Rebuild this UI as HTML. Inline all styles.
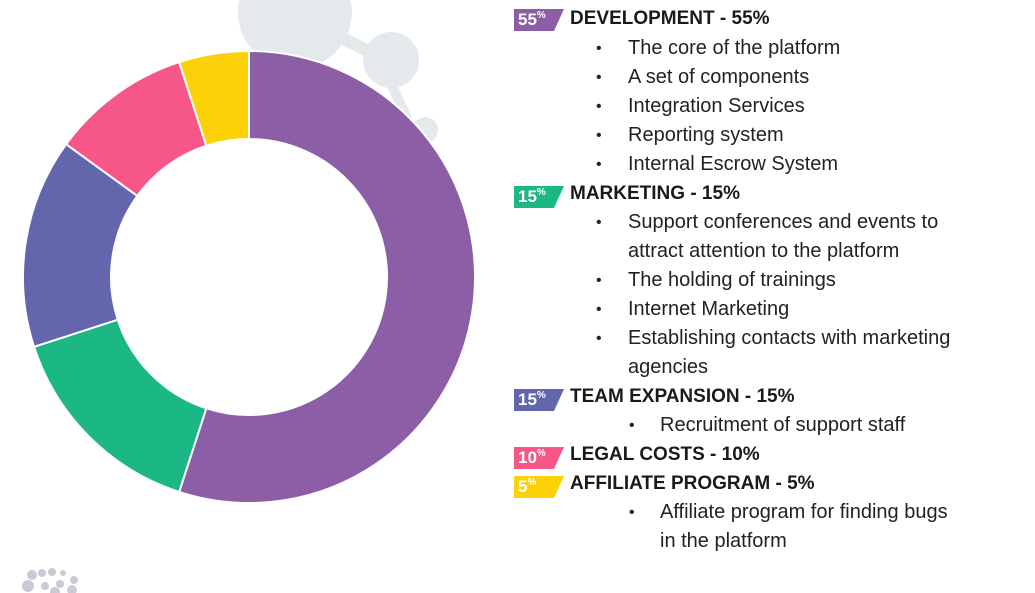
<!DOCTYPE html>
<html><head><meta charset="utf-8"><style>
body{margin:0;width:1035px;height:593px;background:#fff;overflow:hidden;position:relative;font-family:"Liberation Sans",sans-serif;}
svg{position:absolute;left:0;top:0}
.t{position:absolute;font-size:20px;color:#222;white-space:nowrap;line-height:22px}
.h{font-weight:bold;font-size:19px;color:#1a1a1a}
.b{position:absolute;font-size:16px;color:#222;line-height:22px}
.badge{position:absolute;left:514px;width:50px;height:22px;color:#fff;font-weight:bold;font-size:17px;line-height:22px;padding-left:4px;box-sizing:border-box;clip-path:polygon(0 0,100% 0,80% 100%,0 100%)}
.badge sup{font-size:10px;vertical-align:top;line-height:14px}
</style></head><body>
<svg width="1035" height="593">
 <g fill="#e4e9ec">
  <circle cx="295" cy="12" r="57"/><circle cx="391" cy="60" r="28"/>
  <path d="M340 30 L380 50 L376 62 L336 42Z"/><path d="M395 80 L412 118 L403 122 L386 84Z"/>
  <circle cx="425" cy="130" r="13"/>
 </g>
 <g fill="#c9cad3">
  <circle cx="32" cy="575" r="5"/><circle cx="42" cy="573" r="4"/><circle cx="52" cy="572" r="4"/><circle cx="63" cy="573" r="3"/>
  <circle cx="28" cy="586" r="6"/><circle cx="45" cy="586" r="4"/><circle cx="60" cy="584" r="4"/><circle cx="74" cy="580" r="4"/><circle cx="72" cy="590" r="5"/><circle cx="55" cy="592" r="5"/>
 </g>
 <g id="donut" transform="translate(249,277)"></g>
</svg>
<script>
const categories=["Development","Marketing","Team Expansion","Legal Costs","Affiliate Program"];
const values=[55,15,15,10,5];
const colors=["#8b5ea5","#1bb784","#6366ad","#f65786","#fdd108"];
const g=document.getElementById('donut');
const R=226,r=138;
const total=values.reduce((a,b)=>a+b,0);
function pt(a,rad){return [rad*Math.sin(a),-rad*Math.cos(a)];}
let acc=0;
values.forEach((v,i)=>{
 const a0=acc/total*2*Math.PI;acc+=v;const a1=acc/total*2*Math.PI;
 const lg=(a1-a0)>Math.PI?1:0;
 const [x0,y0]=pt(a0,R),[x1,y1]=pt(a1,R),[x2,y2]=pt(a1,r),[x3,y3]=pt(a0,r);
 const p=document.createElementNS('http://www.w3.org/2000/svg','path');
 p.setAttribute('d',`M${x0} ${y0} A${R} ${R} 0 ${lg} 1 ${x1} ${y1} L${x2} ${y2} A${r} ${r} 0 ${lg} 0 ${x3} ${y3}Z`);
 p.setAttribute('fill',colors[i]);p.setAttribute('stroke','#fff');p.setAttribute('stroke-width','2');
 
 
 g.appendChild(p);
});
</script>
<div class="badge" style="top:9px;background:#8b5ea5">55<sup>%</sup></div>
<div class="t h" style="left:570px;top:8px">DEVELOPMENT - 55%</div>
<div class="b" style="left:596px;top:38px">•</div><div class="t" style="left:628px;top:37px">The core of the platform</div>
<div class="b" style="left:596px;top:67px">•</div><div class="t" style="left:628px;top:66px">A set of components</div>
<div class="b" style="left:596px;top:96px">•</div><div class="t" style="left:628px;top:95px">Integration Services</div>
<div class="b" style="left:596px;top:125px">•</div><div class="t" style="left:628px;top:124px">Reporting system</div>
<div class="b" style="left:596px;top:154px">•</div><div class="t" style="left:628px;top:153px">Internal Escrow System</div>
<div class="badge" style="top:186px;background:#1bb784">15<sup>%</sup></div>
<div class="t h" style="left:570px;top:183px">MARKETING - 15%</div>
<div class="b" style="left:596px;top:212px">•</div><div class="t" style="left:628px;top:211px">Support conferences and events to</div>
<div class="t" style="left:628px;top:240px">attract attention to the platform</div>
<div class="b" style="left:596px;top:270px">•</div><div class="t" style="left:628px;top:269px">The holding of trainings</div>
<div class="b" style="left:596px;top:299px">•</div><div class="t" style="left:628px;top:298px">Internet Marketing</div>
<div class="b" style="left:596px;top:328px">•</div><div class="t" style="left:628px;top:327px">Establishing contacts with marketing</div>
<div class="t" style="left:628px;top:356px">agencies</div>
<div class="badge" style="top:389px;background:#6366ad">15<sup>%</sup></div>
<div class="t h" style="left:570px;top:386px">TEAM EXPANSION - 15%</div>
<div class="b" style="left:629px;top:415px">•</div><div class="t" style="left:660px;top:414px">Recruitment of support staff</div>
<div class="badge" style="top:447px;background:#f65786">10<sup>%</sup></div>
<div class="t h" style="left:570px;top:444px">LEGAL COSTS - 10%</div>
<div class="badge" style="top:476px;background:#fdd108">5<sup>%</sup></div>
<div class="t h" style="left:570px;top:473px">AFFILIATE PROGRAM - 5%</div>
<div class="b" style="left:629px;top:502px">•</div><div class="t" style="left:660px;top:501px">Affiliate program for finding bugs</div>
<div class="t" style="left:660px;top:530px">in the platform</div>
</body></html>
